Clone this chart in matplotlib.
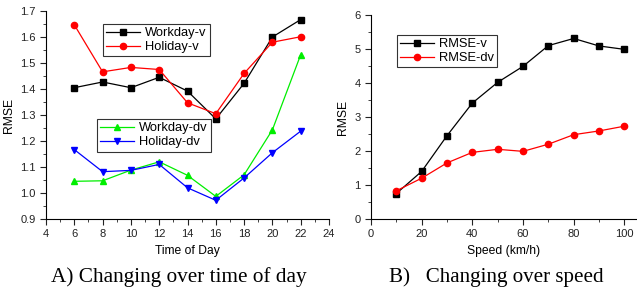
import matplotlib.pyplot as plt
from matplotlib.ticker import MultipleLocator

# data
hours = [6, 8, 10, 12, 14, 16, 18, 20, 22]
workday_v = [1.405, 1.427, 1.405, 1.445, 1.392, 1.285, 1.422, 1.600, 1.667]
holiday_v = [1.647, 1.466, 1.483, 1.475, 1.347, 1.305, 1.460, 1.580, 1.601]
workday_dv = [1.045, 1.047, 1.088, 1.120, 1.068, 0.987, 1.070, 1.243, 1.532]
holiday_dv = [1.167, 1.082, 1.087, 1.110, 1.020, 0.972, 1.058, 1.155, 1.238]

speeds = [10, 20, 30, 40, 50, 60, 70, 80, 90, 100]
rmse_v = [0.75, 1.40, 2.45, 3.41, 4.02, 4.49, 5.10, 5.31, 5.09, 4.99]
rmse_dv = [0.83, 1.20, 1.65, 1.96, 2.05, 1.99, 2.20, 2.48, 2.59, 2.73]

plt.rcParams['font.family'] = 'Liberation Sans'
fig = plt.figure(figsize=(6.37, 2.91), dpi=100)
ax1 = fig.add_axes([0.0722, 0.2474, 0.4443, 0.7148])
ax2 = fig.add_axes([0.5824, 0.2474, 0.4176, 0.701])

ms = 4.5
l1, = ax1.plot(hours, workday_v, 's-', color='black', lw=0.9, ms=ms, label='Workday-v')
l2, = ax1.plot(hours, holiday_v, 'o-', color='red', lw=0.9, ms=ms, label='Holiday-v')
l3, = ax1.plot(hours, workday_dv, '^-', color='#00ee00', lw=0.9, ms=ms + 0.5, label='Workday-dv')
l4, = ax1.plot(hours, holiday_dv, 'v-', color='blue', lw=0.9, ms=ms + 0.5, label='Holiday-dv')

leg_kw = dict(fontsize=9.3, frameon=True, fancybox=False, edgecolor='black',
              handlelength=2.6, borderpad=0.25, labelspacing=0.15, handletextpad=0.4,
              borderaxespad=0)
leg1 = ax1.legend(handles=[l1, l2], loc='upper left', bbox_to_anchor=(0.201, 0.9375), **leg_kw)
leg1.get_frame().set_linewidth(0.8)
ax1.add_artist(leg1)
leg2 = ax1.legend(handles=[l3, l4], loc='upper left', bbox_to_anchor=(0.18, 0.48), **leg_kw)
leg2.get_frame().set_linewidth(0.8)

ax1.set_xlim(4, 24)
ax1.set_ylim(0.9, 1.7)
ax1.xaxis.set_major_locator(MultipleLocator(2))
ax1.xaxis.set_minor_locator(MultipleLocator(1))
ax1.yaxis.set_major_locator(MultipleLocator(0.1))
ax1.yaxis.set_minor_locator(MultipleLocator(0.05))
ax1.set_xlabel('Time of Day', fontsize=8.7, labelpad=4)
ax1.set_ylabel('RMSE', fontsize=8.7, labelpad=4)

ax2.plot(speeds, rmse_v, 's-', color='black', lw=0.9, ms=ms, label='RMSE-v')
ax2.plot(speeds, rmse_dv, 'o-', color='red', lw=0.9, ms=ms, label='RMSE-dv')
leg3 = ax2.legend(loc='upper left', bbox_to_anchor=(0.098, 0.902), **leg_kw)
leg3.get_frame().set_linewidth(0.8)
ax2.set_xlim(0, 105)
ax2.set_ylim(0, 6)
ax2.xaxis.set_major_locator(MultipleLocator(20))
ax2.xaxis.set_minor_locator(MultipleLocator(10))
ax2.yaxis.set_major_locator(MultipleLocator(1))
ax2.yaxis.set_minor_locator(MultipleLocator(0.5))
ax2.set_xlabel('Speed (km/h)', fontsize=8.7, labelpad=4)
ax2.set_ylabel('RMSE', fontsize=8.7, labelpad=4)

for ax in (ax1, ax2):
    ax.spines['top'].set_visible(False)
    ax.spines['right'].set_visible(False)
    ax.tick_params(which='both', direction='out', labelsize=8, colors='#222222')
    ax.tick_params(which='major', length=4)
    ax.tick_params(which='minor', length=2)

fig.text(0.28, 0.03, 'A) Changing over time of day', family='Liberation Serif',
         fontsize=15.3, ha='center')
fig.text(0.779, 0.03, 'B)   Changing over speed', family='Liberation Serif',
         fontsize=15.1, ha='center')

plt.savefig('out.png', dpi=100)
